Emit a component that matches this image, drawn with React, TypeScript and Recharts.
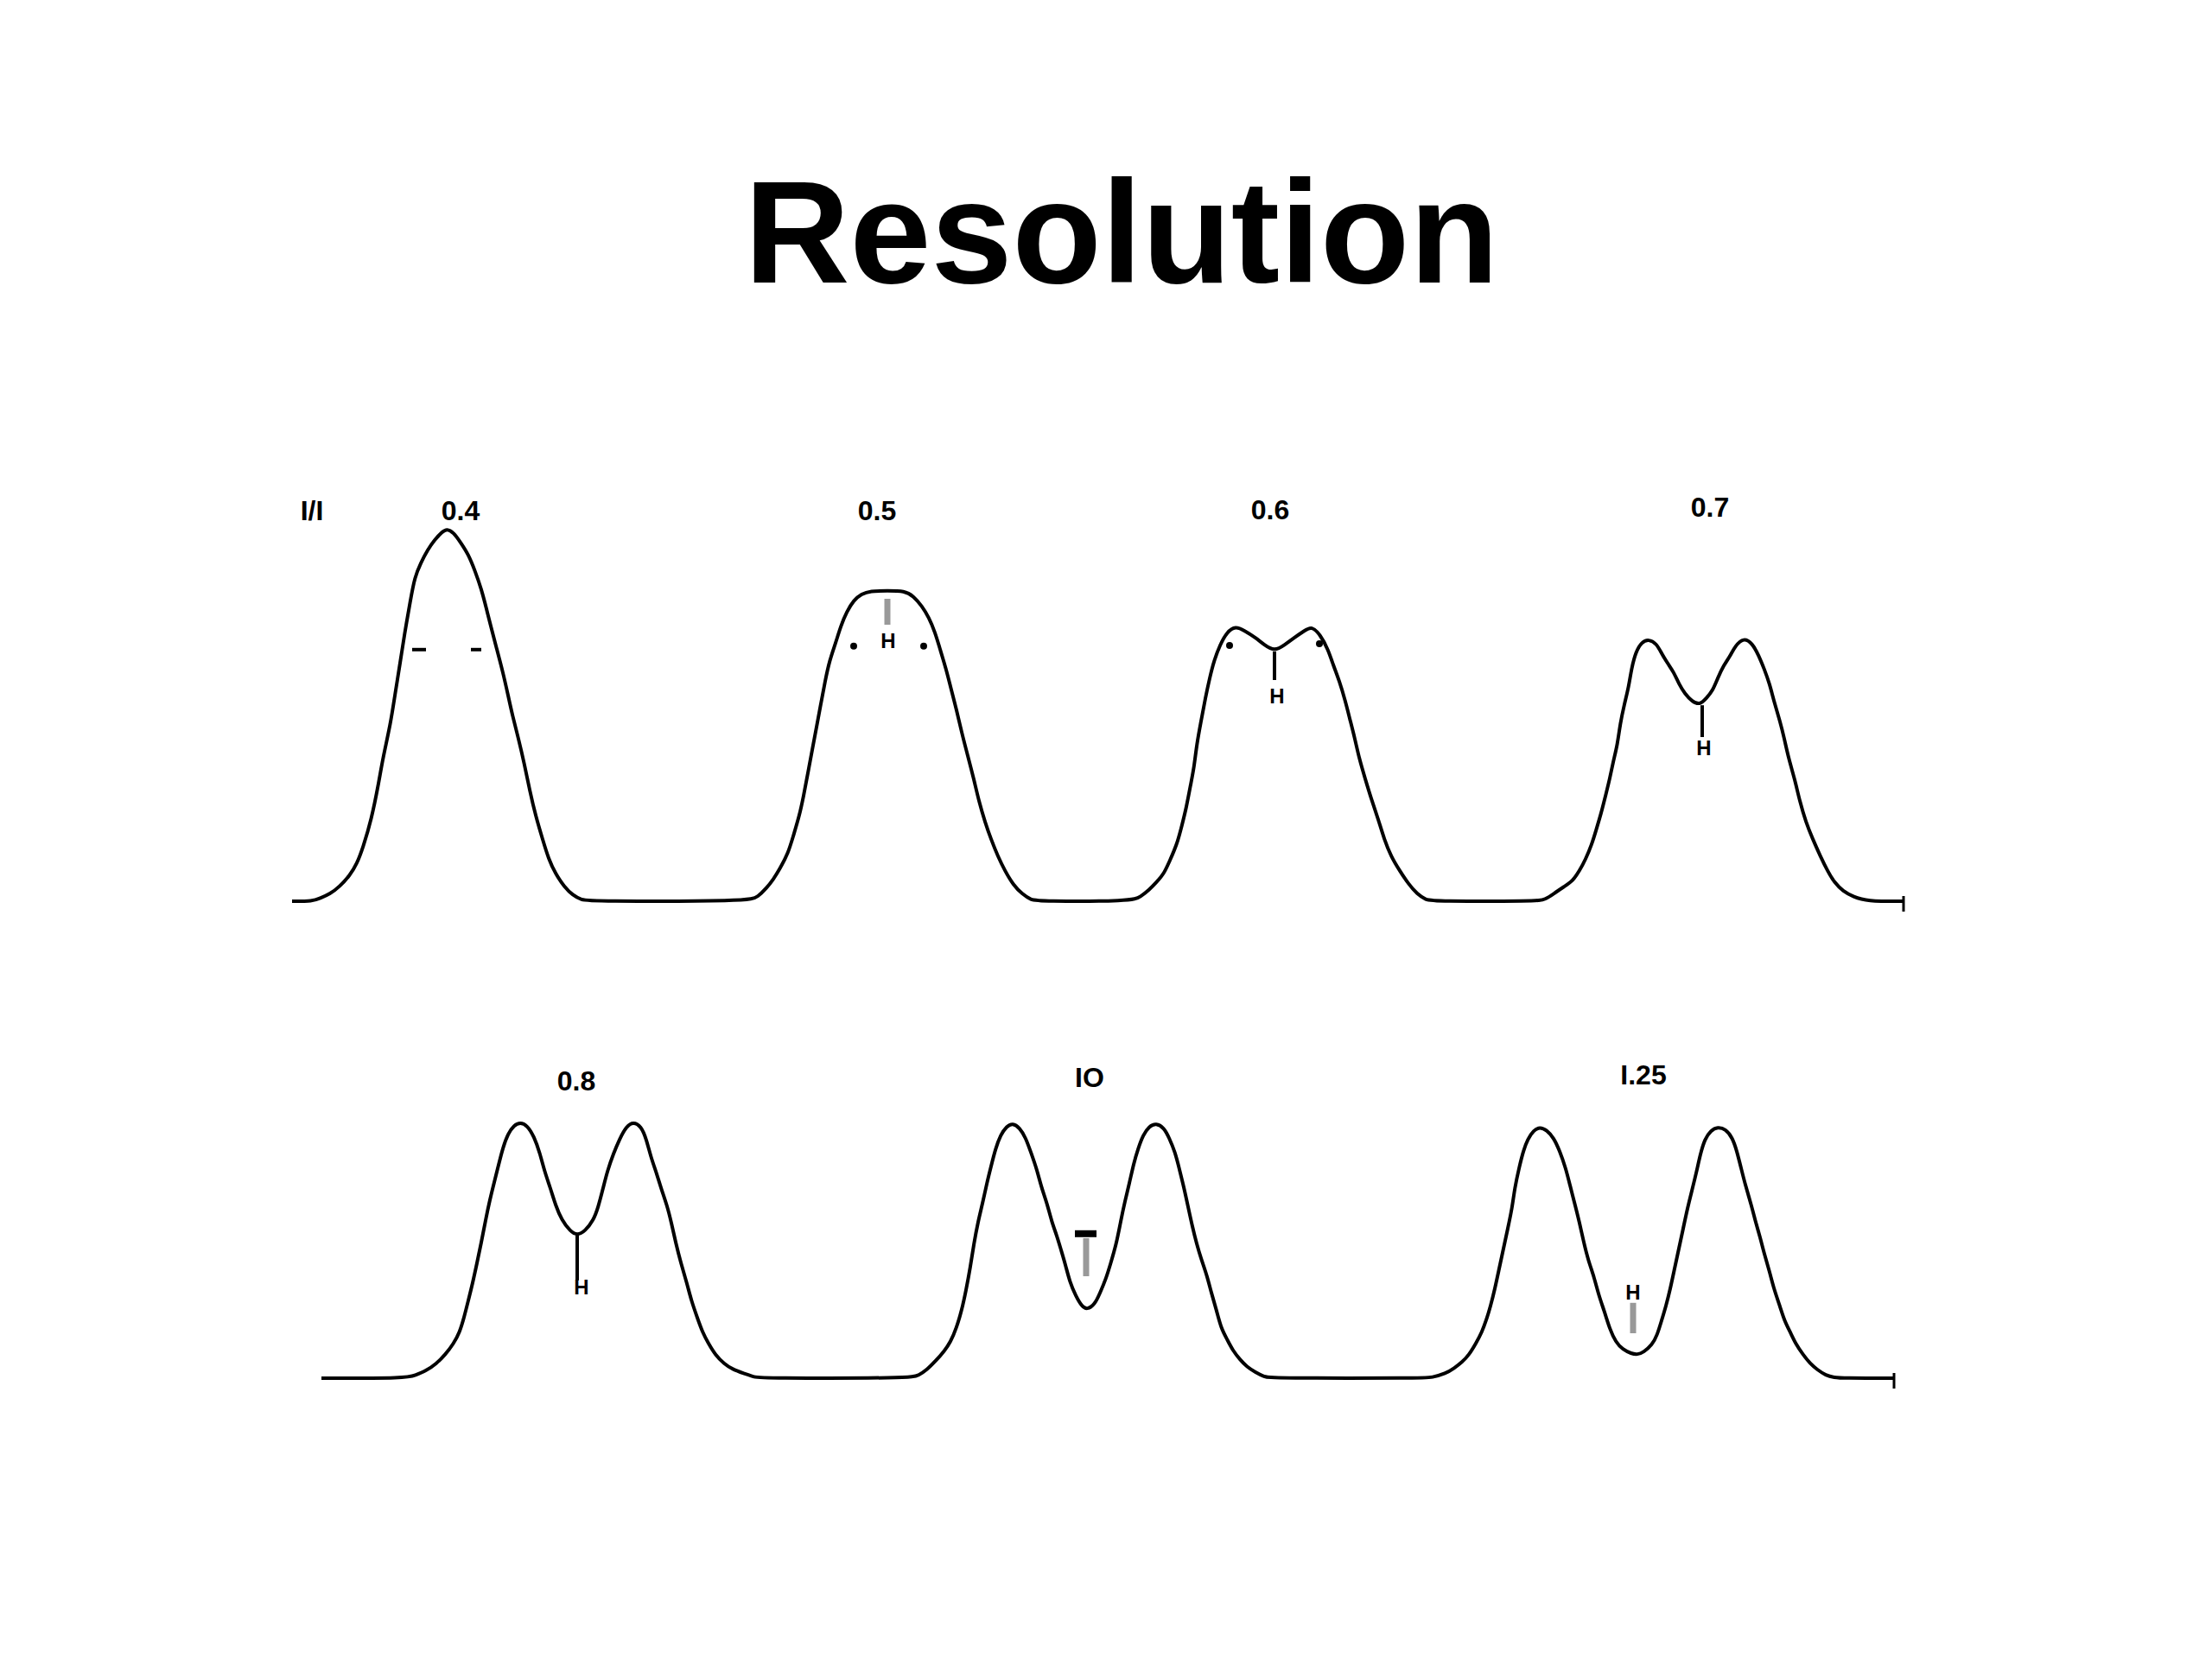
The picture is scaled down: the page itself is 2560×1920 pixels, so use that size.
import React from 'react';
import { LineChart, Line, XAxis, YAxis, ReferenceLine, ReferenceDot } from 'recharts';

// Pairs are [time, signal].
type Pt = [number, number];

const peak04: Pt[] = [
  [2.4, 0], [3.2, 0.8], [4.4, 2.1], [5.5, 4.2], [6.7, 7.5], [7.5, 10.8], [8.2, 15.4], [9.2, 23.8],
  [10.0, 33.8], [10.5, 41.3], [11.4, 51.3], [11.9, 59.6], [12.5, 68.8], [13.0, 77.1], [13.7, 87.1],
  [14.2, 93.8], [14.9, 97.9], [15.7, 101.7], [16.5, 104.6], [17.4, 106.9], [17.9, 107.8], [18.7, 106.7],
  [19.5, 103.8], [20.4, 100.4], [21.2, 95.4], [21.9, 90.4], [22.5, 84.6], [23.0, 79.6], [23.7, 72.9],
  [24.4, 66.3], [25.0, 59.6], [25.5, 53.8], [26.2, 47.1], [26.9, 39.6], [27.5, 32.1], [28.2, 24.6],
  [29.0, 17.9], [29.7, 12.1], [30.5, 7.9], [31.5, 4.2], [32.5, 1.7], [33.5, 0.4], [34.5, 0],
];

const peak05: Pt[] = [
  [53.0, 0], [53.9, 1.3], [54.9, 3.8], [55.7, 6.3], [56.5, 9.6], [57.4, 13.8], [58.0, 18.8], [58.7, 24.6],
  [59.2, 30.4], [59.7, 37.1], [60.2, 43.8], [60.7, 50.4], [61.2, 57.1], [61.7, 63.8], [62.2, 69.6],
  [62.9, 74.6], [63.5, 79.6], [64.2, 83.8], [65.0, 87.1], [65.9, 88.9], [66.9, 89.8], [68.9, 89.8],
  [70.9, 89.8], [71.9, 88.3], [72.9, 85.4], [73.7, 82.1], [74.4, 77.9], [75.0, 72.9], [75.7, 67.1],
  [76.2, 62.1], [76.9, 55.4], [77.5, 48.8], [78.2, 42.1], [78.9, 35.4], [79.5, 28.8], [80.2, 22.9],
  [80.9, 17.9], [81.7, 12.9], [82.5, 8.8], [83.5, 4.6], [84.5, 2.1], [85.5, 0.4], [86.5, 0],
];

const peak06: Pt[] = [
  [97.2, 0], [98.2, 1.3], [99.2, 3.3], [100.0, 5.4], [100.9, 7.9], [101.5, 11.3], [102.4, 16.3],
  [103.0, 22.1], [103.5, 27.1], [104.0, 33.8], [104.4, 38.8], [104.7, 45.4], [105.2, 52.1], [105.7, 58.8],
  [106.2, 64.6], [106.7, 69.6], [107.4, 74.2], [108.2, 77.9], [109.2, 79.6], [110.2, 78.3], [111.5, 76.3],
  [112.5, 74.2], [113.7, 72.3], [114.9, 74.2], [116.0, 76.3], [117.2, 78.3], [118.0, 79.6], [119.0, 77.1],
  [119.9, 72.9], [120.5, 68.3], [121.2, 63.8], [121.9, 57.9], [122.4, 52.9], [123.0, 47.1], [123.5, 41.3],
  [124.2, 35.4], [124.9, 29.6], [125.7, 23.8], [126.4, 17.9], [127.2, 12.9], [128.2, 8.8], [129.2, 5.0],
  [130.2, 2.1], [131.2, 0.4], [132.2, 0],
];

const peak07: Pt[] = [
  [144.0, 0], [145.0, 0.4], [146.2, 2.5], [147.2, 4.2], [148.2, 5.8], [149.0, 8.8], [149.7, 12.1],
  [150.4, 16.3], [150.9, 20.4], [151.5, 25.4], [152.0, 30.4], [152.5, 35.4], [152.9, 40.4], [153.4, 45.4],
  [153.7, 51.3], [154.2, 57.1], [154.7, 62.1], [155.0, 67.1], [155.5, 72.1], [156.2, 75.0], [157.0, 75.8],
  [157.9, 74.6], [158.5, 71.7], [159.2, 68.8], [159.9, 66.3], [160.5, 62.9], [161.2, 60.0], [162.0, 57.9],
  [162.9, 56.7], [163.7, 58.8], [164.4, 60.8], [165.0, 64.6], [165.7, 68.3], [166.4, 70.8], [167.0, 73.8],
  [168.0, 76.3], [169.0, 74.6], [169.7, 71.3], [170.4, 67.1], [171.0, 62.9], [171.5, 57.9], [172.2, 52.1],
  [172.7, 47.1], [173.2, 41.3], [173.9, 35.4], [174.5, 28.8], [175.2, 22.9], [176.0, 17.9], [176.9, 12.9],
  [177.7, 8.8], [178.5, 5.4], [179.5, 2.9], [180.7, 1.3], [182.2, 0],
];

const peak08: Pt[] = [
  [10.0, 0], [10.8, 0.8], [12.1, 2.1], [13.3, 4.2], [14.3, 6.7], [15.3, 10.0], [16.0, 13.3], [16.5, 17.5],
  [17.0, 22.5], [17.5, 27.5], [18.0, 33.3], [18.5, 39.2], [19.0, 45.8], [19.5, 51.7], [20.0, 56.7],
  [20.5, 61.7], [21.0, 66.7], [21.6, 70.8], [22.3, 73.2], [23.0, 74.0], [23.8, 73.2], [24.6, 70.0],
  [25.3, 65.0], [25.8, 60.0], [26.5, 55.0], [27.1, 50.0], [27.8, 45.8], [28.8, 42.5], [29.6, 41.3],
  [30.5, 42.5], [31.5, 45.8], [32.0, 49.2], [32.6, 55.0], [33.1, 60.0], [33.8, 65.0], [34.5, 69.2],
  [35.3, 72.9], [36.1, 74.2], [37.0, 72.9], [37.6, 69.2], [38.1, 64.2], [38.8, 59.2], [39.3, 55.0],
  [40.0, 50.0], [40.5, 45.0], [41.0, 39.2], [41.6, 33.3], [42.3, 27.5], [42.8, 22.5], [43.5, 17.5],
  [44.1, 13.3], [44.8, 10.0], [45.6, 6.7], [46.6, 4.2], [47.6, 2.5], [49.0, 1.3], [50.1, 0.3], [51.0, 0],
];

const peak10: Pt[] = [
  [68.2, 0], [69.1, 0.8], [70.1, 2.5], [71.1, 5.0], [72.1, 7.9], [72.8, 10.4], [73.5, 14.6], [74.1, 19.6],
  [74.6, 25.4], [75.1, 32.1], [75.5, 38.8], [76.0, 45.4], [76.5, 50.4], [77.0, 56.3], [77.5, 61.3],
  [78.0, 66.3], [78.6, 70.4], [79.3, 72.9], [80.0, 73.8], [80.8, 72.5], [81.5, 69.6], [82.1, 65.4],
  [82.8, 60.4], [83.3, 55.4], [84.0, 50.4], [84.5, 45.4], [85.1, 41.3], [85.6, 37.1], [86.1, 32.9],
  [86.6, 27.9], [87.3, 23.8], [88.0, 20.8], [88.6, 19.8], [89.5, 21.3], [90.1, 24.6], [90.8, 28.8],
  [91.3, 32.9], [92.0, 38.8], [92.5, 45.4], [93.0, 51.3], [93.5, 56.3], [94.0, 62.1], [94.5, 66.3],
  [95.1, 70.4], [95.8, 72.9], [96.6, 73.8], [97.5, 72.5], [98.1, 69.6], [98.8, 65.4], [99.3, 60.4],
  [99.8, 55.4], [100.3, 49.6], [100.8, 43.8], [101.3, 38.8], [101.8, 34.6], [102.5, 29.6], [103.0, 24.6],
  [103.6, 19.6], [104.1, 14.6], [104.8, 11.3], [105.5, 7.9], [106.3, 5.4], [107.1, 3.3], [108.1, 1.7],
  [109.1, 0.4], [110.0, 0],
];

const peak125: Pt[] = [
  [127.5, 0], [128.5, 0.2], [130.1, 1.3], [131.1, 2.9], [132.0, 4.6], [132.8, 6.7], [133.6, 10.0],
  [134.3, 13.3], [134.8, 16.7], [135.3, 20.8], [135.8, 25.8], [136.3, 31.7], [136.8, 37.5], [137.3, 43.3],
  [137.8, 49.2], [138.1, 55.0], [138.6, 60.8], [139.1, 65.8], [139.6, 69.2], [140.3, 71.7], [141.0, 72.7],
  [141.8, 71.8], [142.6, 69.6], [143.3, 65.8], [144.0, 60.8], [144.5, 55.8], [145.1, 50.0], [145.6, 45.0],
  [146.1, 39.2], [146.6, 34.2], [147.3, 29.2], [147.8, 24.2], [148.5, 19.2], [149.1, 14.2], [149.8, 10.4],
  [150.6, 8.3], [151.6, 7.1], [152.3, 6.8], [153.0, 7.5], [154.0, 9.6], [154.6, 12.5], [155.1, 16.7],
  [155.6, 20.8], [156.1, 25.8], [156.6, 31.7], [157.1, 37.5], [157.6, 43.3], [158.1, 49.2], [158.6, 54.2],
  [159.1, 59.2], [159.6, 65.0], [160.1, 69.2], [160.8, 71.7], [161.6, 72.7], [162.5, 72.1], [163.3, 69.6],
  [163.8, 65.8], [164.3, 60.8], [164.8, 55.8], [165.5, 50.0], [166.0, 45.0], [166.5, 40.8], [167.0, 35.8],
  [167.6, 30.8], [168.1, 25.8], [168.8, 20.8], [169.3, 16.7], [170.0, 13.3], [170.6, 10.0], [171.5, 6.7],
  [172.3, 4.2], [173.1, 2.5], [174.1, 0.8], [175.1, 0.2], [176.0, 0],
];

const topBaseEnd = 186.5;
const bottomBaseEnd = 182;

// peak labels: [time, signal, text]
const topLabels: [number, number, string][] = [
  [2.3, 113, 'I/I'], [19.5, 113, '0.4'], [67.7, 113, '0.5'], [113.2, 113.3, '0.6'], [164.1, 114, '0.7'],
];
const bottomLabels: [number, number, string][] = [
  [29.5, 86, '0.8'], [88.9, 87, 'IO'], [153, 87.8, 'I.25'],
];

// valley drop markers: [time, from, to]
const topDrops: [number, number, number][] = [
  [113.7, 72.3, 64], [163.2, 56.7, 47.5],
];
const bottomDrops: [number, number, number][] = [
  [29.6, 41.3, 28.3],
];
// faint (grey) drop markers
const topFaint: [number, number, number][] = [[68.9, 87.5, 80]];
const bottomFaint: [number, number, number][] = [[88.5, 40.5, 29.5], [151.8, 21.8, 13]];

// little "h" glyphs under the drops: [time, signal]
const topGlyphs: Pt[] = [[69.0, 75.3], [114.0, 59.5], [163.4, 44.3]];
const bottomGlyphs: Pt[] = [[30.1, 26.3], [151.8, 25]];
// half-height ticks on the 0.4 peak: [from, to, signal]
const halfTicks: [number, number, number][] = [[13.9, 15.5, 72.8], [20.7, 21.9, 72.8]];
// small dots: [time, signal]
const topDots: Pt[] = [[65.0, 73.8], [73.1, 73.8], [108.5, 74], [118.9, 74.5]];

const toRow = (peaks: Pt[][], end: number) => [
  { x: 0, y: 0 },
  ...peaks.flat().map(([x, y]) => ({ x, y })),
  { x: end, y: 0 },
];

const topData = toRow([peak04, peak05, peak06, peak07], topBaseEnd);
const bottomData = toRow([peak08, peak10, peak125], bottomBaseEnd);

const labelStyle = { position: 'center' as const, fontSize: 32, fontWeight: 700, fill: '#000' };
const glyphStyle = { position: 'center' as const, fontSize: 24, fontWeight: 700, fill: '#000' };

interface RowProps {
  data: { x: number; y: number }[];
  labels: [number, number, string][];
  drops: [number, number, number][];
  faint: [number, number, number][];
  glyphs: Pt[];
  end: number;
  extra?: React.ReactNode;
}

const Row: React.FC<RowProps> = ({ data, labels, drops, faint, glyphs, end, extra }) => (
  <LineChart width={1870} height={520} data={data} margin={{ top: 0, right: 0, bottom: 0, left: 0 }}>
    <XAxis type="number" dataKey="x" domain={[0, 187]} hide />
    <YAxis type="number" domain={[-10, 120]} hide />
    <Line
      type="basis"
      dataKey="y"
      stroke="#000"
      strokeWidth={4}
      dot={false}
      isAnimationActive={false}
    />
    <ReferenceLine segment={[{ x: end, y: 1.5 }, { x: end, y: -3 }]} stroke="#000" strokeWidth={3} />
    {drops.map(([x, a, b], i) => (
      <ReferenceLine key={'d' + i} segment={[{ x, y: a }, { x, y: b }]} stroke="#000" strokeWidth={4} />
    ))}
    {faint.map(([x, a, b], i) => (
      <ReferenceLine key={'f' + i} segment={[{ x, y: a }, { x, y: b }]} stroke="#999" strokeWidth={7} />
    ))}
    {glyphs.map(([x, y], i) => (
      <ReferenceDot key={'g' + i} x={x} y={y} r={0} stroke="none" label={{ value: 'H', ...glyphStyle }} />
    ))}
    {labels.map(([x, y, t]) => (
      <ReferenceDot key={t} x={x} y={y} r={0} stroke="none" label={{ value: t, ...labelStyle }} />
    ))}
    {extra}
  </LineChart>
);

export default function App() {
  return (
    <div
      style={{
        position: 'absolute',
        left: 0,
        top: 0,
        width: 2560,
        height: 1920,
        background: '#fff',
        overflow: 'hidden',
        fontFamily: '"Liberation Sans", Arial, Helvetica, sans-serif',
      }}
    >
      <div
        style={{
          position: 'absolute',
          left: 0,
          top: 184,
          width: 2596,
          textAlign: 'center',
          fontSize: 169,
          lineHeight: 1,
          fontWeight: 700,
          color: '#000',
        }}
      >
        Resolution
      </div>

      <div style={{ position: 'absolute', left: 338, top: 563 }}>
        <Row
          data={topData}
          labels={topLabels}
          drops={topDrops}
          faint={topFaint}
          glyphs={topGlyphs}
          end={topBaseEnd}
          extra={[
            ...halfTicks.map(([a, b, y], i) => (
              <ReferenceLine key={'h' + i} segment={[{ x: a, y }, { x: b, y }]} stroke="#000" strokeWidth={4} />
            )),
            ...topDots.map(([x, y], i) => (
              <ReferenceDot key={'p' + i} x={x} y={y} r={4} fill="#000" stroke="none" />
            )),
          ]}
        />
      </div>

      <div style={{ position: 'absolute', left: 372, top: 1115 }}>
        <Row
          data={bottomData}
          labels={bottomLabels}
          drops={bottomDrops}
          faint={bottomFaint}
          glyphs={bottomGlyphs}
          end={bottomBaseEnd}
          extra={[
            <ReferenceLine
              key="bar"
              segment={[{ x: 87.2, y: 41.8 }, { x: 89.7, y: 41.8 }]}
              stroke="#000"
              strokeWidth={8}
            />,
          ]}
        />
      </div>
    </div>
  );
}
